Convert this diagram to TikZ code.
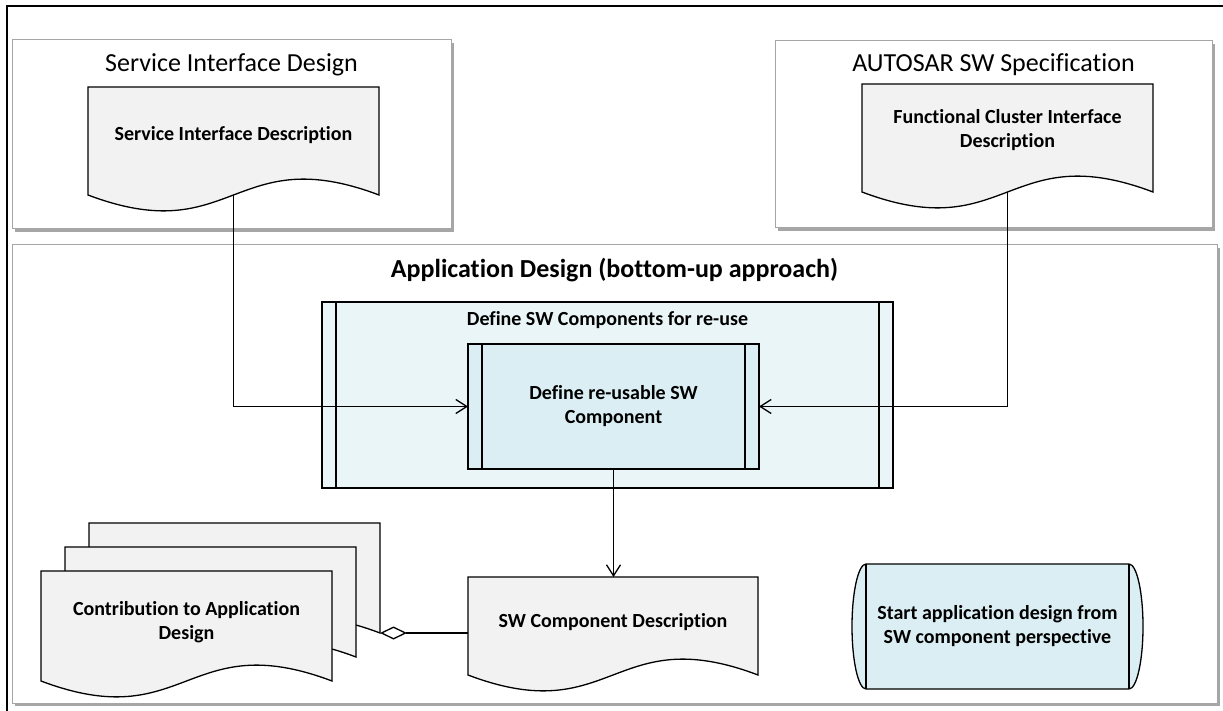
\documentclass[tikz,border=0pt]{standalone}
\usepackage{fontspec}
\setmainfont{Carlito}[Ligatures=NoCommon]
\usetikzlibrary{calc,arrows.meta,shadows}
\pgfdeclarelayer{bg}
\pgfdeclarelayer{docs}
\pgfsetlayers{bg,docs,main}
\definecolor{docgray}{HTML}{F2F2F2}
\definecolor{procblue}{HTML}{DAEEF3}
\definecolor{procpale}{HTML}{EAF5F8}
\definecolor{boxline}{HTML}{A6A6A6}
\newcommand{\docpath}[1]{(#1.north west) -- (#1.north east) -- (#1.south east) .. controls ($(#1.south)+(0,-55)$) and ($(#1.south)+(0,55)$) .. (#1.south west) -- cycle}
\tikzset{
  container/.style={draw=boxline, line width=1pt, fill=white, inner sep=0pt, outer sep=0pt,
    drop shadow={shadow xshift=3pt, shadow yshift=-3pt, fill=black, opacity=0.35}},
  titletext/.style={font=\fontsize{26}{31}\selectfont, inner sep=0pt, anchor=base},
  bigbold/.style={font=\fontsize{26}{31}\selectfont\bfseries, inner sep=0pt, anchor=base},
  labeltext/.style={font=\fontsize{20}{24}\selectfont\bfseries, align=center, inner sep=0pt, outer sep=0pt},
  docbody/.style={draw=none, inner sep=0pt, outer sep=0pt, minimum width=291pt, minimum height=108pt},
  docshape/.style={fill=docgray, draw=black, line width=1.3pt},
  procbox/.style={draw=black, line width=1.3pt, labeltext},
  procline/.style={draw=black, line width=1.3pt},
  termshape/.style={fill=procblue, draw=black, line width=1.3pt},
  conn/.style={draw=black, line width=1.3pt},
  openarrow/.style={-{Straight Barb[length=11pt,width=14pt]}},
  aggr/.style={{Diamond[open,length=27pt,width=13pt]}-}
}
\begin{document}
\begin{tikzpicture}[x=1pt,y=-1pt]
\useasboundingbox (0,0) rectangle (1223,711);
\clip (0,0) rectangle (1223,711);
\begin{pgfonlayer}{bg}
  \fill[white] (0,0) rectangle (1223,711);
  \draw[line width=1.5pt] (7,6) rectangle (1240,730);
  \node[container, minimum width=439pt, minimum height=189pt] (sidbox) at (231.5,134.5) {};
  \node[container, minimum width=437pt, minimum height=187pt] (aswbox) at (993.5,134.5) {};
  \node[container, minimum width=1205pt, minimum height=458pt] (appbox) at (614.5,474) {};
\end{pgfonlayer}

% container titles
\node[titletext] (sidtitle) at (231.5,72) {Service Interface Design};
\node[titletext] (aswtitle) at (993.5,72) {AUTOSAR SW Specification};
\node[bigbold] (apptitle) at (614.5,278) {Application Design (bottom-up approach)};

% processes
\node[procbox, fill=procpale, minimum width=571pt, minimum height=186pt] (outer) at (607.5,395) {};
\draw[procline] ([xshift=14pt]outer.north west) -- ([xshift=14pt]outer.south west);
\draw[procline] ([xshift=-14pt]outer.north east) -- ([xshift=-14pt]outer.south east);
\node[labeltext, anchor=base] (outertext) at (607.5,325) {Define SW Components for re-use};
\node[procbox, fill=procblue, minimum width=291pt, minimum height=125pt] (inner) at (613.5,406.5) {Define re-usable SW\\Component};
\draw[procline] ([xshift=14pt]inner.north west) -- ([xshift=14pt]inner.south west);
\draw[procline] ([xshift=-14pt]inner.north east) -- ([xshift=-14pt]inner.south east);

% documents (geometry)
\node[docbody] (sidoc) at (233.5,141) {};
\node[docbody] (fcdoc) at (1007.5,138) {};
\node[docbody, minimum width=290pt, minimum height=98pt] (swdoc) at (613,626) {};
\node[docbody, minimum height=110pt] (cadback) at (234.5,578) {};
\node[docbody, minimum height=110pt] (cadmid) at (210.5,602) {};
\node[docbody, minimum height=110pt] (cad) at (186.5,626) {};
\node[labeltext, minimum width=263pt, minimum height=125pt] (start) at (997.5,626.5) {Start application design from\\SW component perspective};

\begin{pgfonlayer}{docs}
  \path[docshape] \docpath{sidoc};
  \path[docshape] \docpath{fcdoc};
  \path[docshape] \docpath{swdoc};
  \path[docshape] \docpath{cadback};
  \path[docshape] \docpath{cadmid};
  \path[docshape] \docpath{cad};
  \path[termshape] (start.north west) -- (start.north east)
    .. controls ($(start.north east)+(7.7,0)$) and ($(start.east)+(14,-34.5)$) .. ($(start.east)+(14,0)$)
    .. controls ($(start.east)+(14,34.5)$) and ($(start.south east)+(7.7,0)$) .. (start.south east)
    -- (start.south west)
    .. controls ($(start.south west)+(-7.7,0)$) and ($(start.west)+(-14,34.5)$) .. ($(start.west)+(-14,0)$)
    .. controls ($(start.west)+(-14,-34.5)$) and ($(start.north west)+(-7.7,0)$) .. (start.north west) -- cycle;
  \draw[procline] (start.north west) -- (start.south west);
  \draw[procline] (start.north east) -- (start.south east);
\end{pgfonlayer}

% document texts
\node[labeltext] (sidoctext) at (233.5,135) {Service Interface Description};
\node[labeltext] (fcdoctext) at (1007.5,130) {Functional Cluster Interface\\Description};
\node[labeltext] (swdoctext) at (613,622) {SW Component Description};
\node[labeltext] (cadtext) at (186.5,622) {Contribution to Application\\Design};

% connectors
\draw[conn, openarrow] (sidoc.south) |- (inner.west);
\draw[conn, openarrow] (fcdoc.south) |- (inner.east);
\draw[conn, openarrow] (inner.south) -- (inner.south |- swdoc.north);
\draw[conn, aggr] (cadback.south east) -- (cadback.south east -| swdoc.west);
\end{tikzpicture}
\end{document}
